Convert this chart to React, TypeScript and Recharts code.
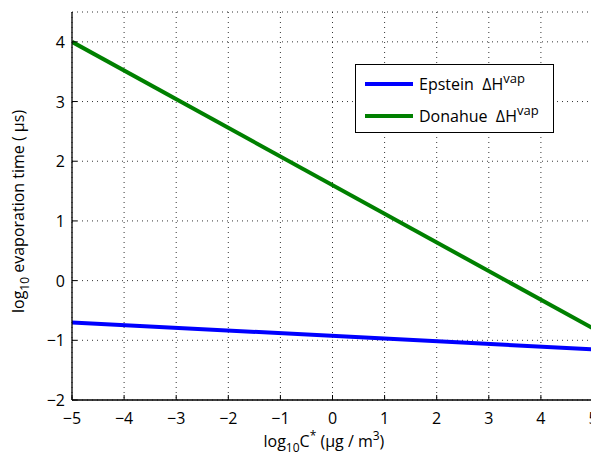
import React from 'react';
import { LineChart, Line, XAxis, YAxis, CartesianGrid } from 'recharts';

const logC = [-5, 5];
const epsteinTime = [-0.7, -1.15];
const donahueTime = [4.0, -0.8];
const xTicks = [-5, -4, -3, -2, -1, 0, 1, 2, 3, 4, 5];
const yTicks = [-2, -1, 0, 1, 2, 3, 4];

const data = logC.map((x, i) => ({ x, epstein: epsteinTime[i], donahue: donahueTime[i] }));

const FONT = '"Open Sans", "DejaVu Sans", sans-serif';
const fmt = (v: number) => (v < 0 ? '\u2212' + Math.abs(v) : String(v));

const BottomTick = (p: any) => (
  <g>
    <line x1={p.x} y1={p.y} x2={p.x} y2={p.y - 5} stroke="#000" />
    <text x={p.x} y={p.y + 24} textAnchor="middle" fontSize={16} fontFamily={FONT} fill="#000">
      {fmt(p.payload.value)}
    </text>
  </g>
);
const TopTick = (p: any) => (
  <line x1={p.x} y1={p.y} x2={p.x} y2={p.y + 5} stroke="#000" />
);
const LeftTick = (p: any) => (
  <g>
    <line x1={p.x} y1={p.y} x2={p.x + 5} y2={p.y} stroke="#000" />
    <text x={p.x - 7} y={p.y + 6} textAnchor="end" fontSize={16} fontFamily={FONT} fill="#000">
      {fmt(p.payload.value)}
    </text>
  </g>
);
const RightTick = (p: any) => (
  <line x1={p.x} y1={p.y} x2={p.x - 5} y2={p.y} stroke="#000" />
);

const XLabel = (props: any) => {
  const vb = props.viewBox;
  const sx = vb.x + vb.width / 2 - 69;
  return (
    <text x={sx} y={vb.y + 47} textAnchor="start" fontSize={16} fontFamily={FONT} fill="#000">
      log<tspan fontSize={12} dy={5}>10</tspan>
      <tspan dy={-5}>C</tspan>
      <tspan fontSize={12} dy={-7}>*</tspan>
      <tspan dy={7}> (µg / m</tspan>
      <tspan fontSize={12} dy={-7}>3</tspan>
      <tspan dy={7}>)</tspan>
    </text>
  );
};

const YLabel = (props: any) => {
  const vb = props.viewBox;
  const sy = vb.y + vb.height / 2 + 107;
  const sx = 16;
  return (
    <text x={sx} y={sy} transform={`rotate(-90 ${sx} ${sy})`} textAnchor="start" fontSize={16} fontFamily={FONT} fill="#000">
      log<tspan fontSize={12} dy={5}>10</tspan>
      <tspan dy={-5}> evaporation time ( µs)</tspan>
    </text>
  );
};

const LegendBox = () => (
  <div
    style={{
      position: 'absolute',
      left: 347,
      top: 56,
      width: 199,
      height: 69,
      border: '1px solid #000',
      background: '#fff',
      fontFamily: FONT,
      fontSize: 16,
      color: '#000',
      boxSizing: 'border-box',
    }}
  >
    {[
      { name: 'Epstein', color: '#0000ff' },
      { name: 'Donahue', color: '#008000' },
    ].map((it, i) => (
      <div key={i} style={{ position: 'absolute', left: 9, top: i === 0 ? 8 : 40, display: 'flex', alignItems: 'center', whiteSpace: 'nowrap', height: 22 }}>
        <div style={{ width: 48, height: 4, background: it.color, marginRight: 6 }} />
        <span style={{ lineHeight: '22px' }}>
          {it.name}&nbsp;&nbsp;ΔH<sup style={{ fontSize: 13, verticalAlign: 7, lineHeight: 0 }}>vap</sup>
        </span>
      </div>
    ))}
  </div>
);

export default function App() {
  return (
    <div style={{ position: 'relative', width: 591, height: 454 }}>
      <LineChart width={591} height={454} data={data} margin={{ top: 4, right: 6, bottom: 12, left: 14 }}>
        <CartesianGrid stroke="#000" strokeDasharray="1 4" strokeWidth={0.8} />
        <XAxis
          dataKey="x"
          type="number"
          domain={[-5, 5]}
          ticks={xTicks}
          height={50}
          tickSize={0}
          tickMargin={0}
          axisLine={{ stroke: '#000', strokeWidth: 1.3 }}
          tickLine={false}
          tick={<BottomTick />}
          interval={0}
          allowDataOverflow
          label={<XLabel />}
        />
        <XAxis
          xAxisId="top"
          orientation="top"
          type="number"
          domain={[-5, 5]}
          ticks={xTicks}
          height={0}
          tickSize={0}
          tickMargin={0}
          axisLine={{ stroke: '#000', strokeWidth: 1.3 }}
          tickLine={false}
          tick={<TopTick />}
          interval={0}
        />
        <YAxis
          type="number"
          domain={[-2, 4.5]}
          ticks={yTicks}
          width={50}
          tickSize={0}
          tickMargin={0}
          axisLine={{ stroke: '#000', strokeWidth: 1.3 }}
          tickLine={false}
          tick={<LeftTick />}
          interval={0}
          allowDataOverflow
          label={<YLabel />}
        />
        <YAxis
          yAxisId="right"
          orientation="right"
          type="number"
          domain={[-2, 4.5]}
          ticks={yTicks}
          width={0}
          tickSize={0}
          tickMargin={0}
          axisLine={{ stroke: '#000', strokeWidth: 1.3 }}
          tickLine={false}
          tick={<RightTick />}
          interval={0}
        />
        <Line dataKey="epstein" stroke="#0000ff" strokeWidth={4} dot={false} isAnimationActive={false} />
        <Line dataKey="donahue" stroke="#008000" strokeWidth={4} dot={false} isAnimationActive={false} />
      </LineChart>
      <LegendBox />
    </div>
  );
}
